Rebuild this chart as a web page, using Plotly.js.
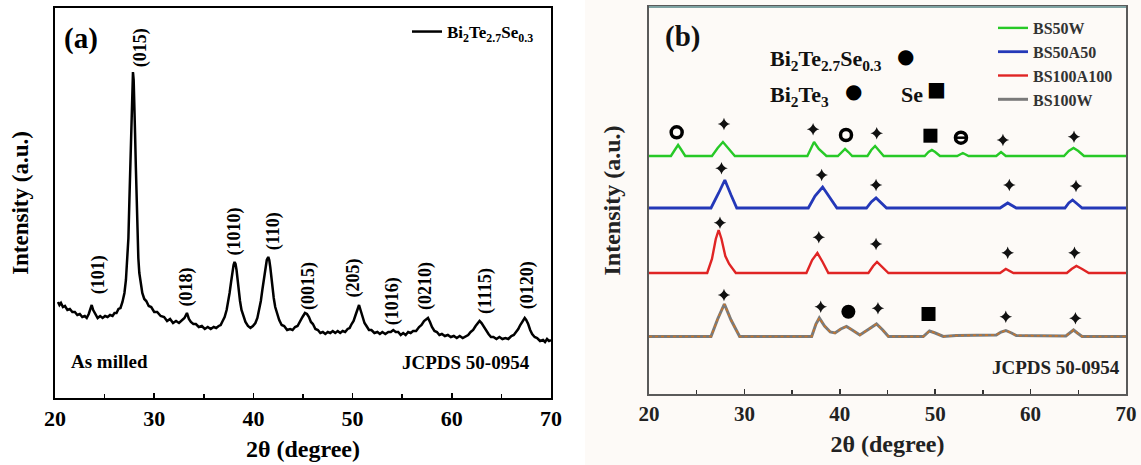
<!DOCTYPE html>
<html>
<head>
<meta charset="utf-8">
<script src="https://cdn.plot.ly/plotly-3.0.1.min.js"></script>
<style>html,body{margin:0;padding:0;background:#fff;}#chart{width:1141px;height:465px;}</style>
</head>
<body>
<div id="chart"></div>
<script>
// ---------- Panel (a): as-milled Bi2Te2.7Se0.3, [2θ, intensity] pairs ----------
const patternA = [
 [20.3,96],[20.45,93],[20.6,95],[20.8,91],[21.0,92],[21.25,88],[21.5,89],[21.75,86],[22.0,86],[22.25,83],[22.5,84],[22.75,81],[23.0,82],[23.2,80],[23.4,84],[23.55,88],[23.7,93],[23.85,88],[24.0,85],[24.15,82],[24.3,80],[24.55,82],[24.8,80],[25.05,82],[25.3,81],[25.55,83],[25.8,82],[26.0,85],[26.2,85],[26.4,89],[26.6,90],[26.8,96],
 [27.0,105],[27.15,118],[27.3,138],[27.4,160],[27.5,198],[27.6,235],[27.7,271],[27.78,305],[27.86,326],[27.93,318],[28.0,298],[28.07,265],[28.15,231],[28.22,195],[28.3,165],[28.4,140],[28.5,125],[28.65,112],[28.8,105],
 [29.0,99],[29.2,97],[29.45,92],[29.7,91],[30.0,86],[30.3,86],[30.65,82],[31.0,81],[31.3,77],[31.6,79],[31.9,75],[32.2,77],[32.5,75],[32.8,78],[33.05,80],[33.3,85],[33.5,79],[33.7,76],[33.95,74],[34.2,74],[34.5,71],[34.8,72],[35.1,69],[35.4,71],[35.7,69],[36.0,71],[36.25,70],[36.5,72],[36.7,73],[36.9,77],[37.1,81],
 [37.3,88],[37.45,95],[37.6,105],[37.75,116],[37.9,128],[38.0,133],[38.1,136],[38.2,134],[38.3,128],[38.4,118],[38.5,108],[38.65,97],[38.8,88],
 [39.0,81],[39.2,76],[39.45,72],[39.7,70],[39.95,72],[40.2,75],[40.4,80],
 [40.6,88],[40.75,97],[40.9,108],[41.05,120],[41.2,131],[41.35,138],[41.5,141],[41.6,138],[41.7,131],[41.8,121],[41.9,111],[42.05,100],[42.2,91],
 [42.4,84],[42.6,78],[42.85,73],[43.1,72],[43.4,68],[43.7,69],[43.95,68],[44.2,71],[44.45,72],[44.7,77],[44.95,81],[45.2,85],[45.4,84],[45.6,81],[45.8,76],[46.0,74],[46.25,69],[46.5,68],[46.75,65],[47.0,66],[47.25,64],[47.5,66],[47.75,65],[48.0,67],[48.25,65],[48.5,67],[48.75,65],[49.0,67],[49.25,66],[49.5,69],[49.7,70],[49.9,74],[50.1,77],[50.3,83],[50.5,89],[50.65,93],[50.8,88],[51.0,81],[51.2,75],[51.4,72],[51.65,68],[51.9,68],[52.2,65],[52.5,66],[52.75,64],[53.0,66],[53.3,64],[53.6,66],[53.85,66],[54.1,68],[54.35,66],[54.6,66],[54.85,63],[55.1,65],[55.35,63],[55.6,66],[55.85,65],[56.1,67],[56.4,67],[56.7,71],[56.95,73],[57.2,77],[57.4,79],[57.6,80],[57.8,76],[58.0,71],[58.25,67],[58.5,66],[58.75,63],[59.0,64],[59.3,62],[59.6,63],[59.9,61],[60.2,62],[60.5,60],[60.8,62],[61.1,60],[61.4,62],[61.65,63],[61.9,66],[62.15,68],[62.4,72],[62.6,75],[62.8,77],[63.0,75],[63.2,72],[63.45,67],[63.7,64],[63.95,61],[64.2,61],[64.5,59],[64.8,61],[65.1,59],[65.4,60],[65.7,59],[66.0,62],[66.25,63],[66.5,66],[66.7,69],[66.9,73],[67.15,77],[67.35,80],[67.5,78],[67.7,74],[67.9,68],[68.1,64],[68.35,61],[68.6,60],[68.9,57],[69.2,58],[69.4,56],[69.6,59],[69.8,57],[70.0,58]
];
const peakLabels = ["(101)","(015)","(018)","(1010)","(110)","(0015)","(205)","(1016)","(0210)","(1115)","(0120)"];
const peakLabelX = [24.35,28.6,33.25,38.0,42.0,45.5,50.0,54.0,57.3,63.35,67.6];
const peakLabelY = [123,350,111,166,167,112,120,97,112,107,113];

// ---------- Panel (b): four processed samples ----------
const seriesNames = ["BS50W","BS50A50","BS100A100","BS100W"];
const seriesColors = ["#27c927","#2438b8","#e02424","#7a7a7a"];
const bs50wX = [20,22.3,22.7,23.05,23.4,23.8,26.6,27.2,27.75,28.3,29.0,36.6,37.0,37.3,37.8,38.6,39.8,40.2,40.55,40.9,41.3,42.9,43.3,43.7,44.1,44.6,48.9,49.3,49.65,50.0,50.5,52.3,52.9,53.5,56.4,56.9,57.4,63.5,64.0,64.5,65.0,65.6,70];
const bs50wY = [238,238,244,249,244,238,238,246,252,246,238,238,246,252,245,238,238,242,245,242,238,238,244,248,244,238,238,242,244,242,238,238,241,238,238,242,238,238,243,246,243,238,238];
const bs50a50X = [20,26.5,27.3,27.95,28.6,29.2,36.7,37.4,38.2,39.0,39.7,42.8,43.3,43.8,44.3,44.9,56.8,57.6,58.5,63.6,64.0,64.4,64.9,65.4,70];
const bs50a50Y = [186,186,201,214,199,186,186,198,207,196,186,186,192,196,191,186,186,191,186,186,191,194,190,186,186];
const bs100a100X = [20,26.1,26.6,27.0,27.3,27.6,28.0,28.4,29.1,36.5,37.1,37.65,38.2,38.8,43.0,43.5,43.9,44.4,45.1,56.8,57.4,58.2,63.8,64.3,64.8,65.4,66.1,70];
const bs100a100Y = [121,121,135,155,164,155,138,130,121,121,134,141,132,121,121,128,132,127,121,121,125,121,121,125,128,125,121,121];
const bs100wX = [20,26.5,27.2,27.9,28.6,29.5,37.05,37.5,37.85,38.4,39.0,39.5,40.1,40.7,41.3,42.1,42.9,43.85,44.5,45.1,48.75,49.4,50.0,50.85,52.2,56.4,56.9,57.4,58.0,58.5,63.7,64.2,64.5,64.9,65.4,70];
const bs100wY = [57.5,57.5,75,90,74,57.5,57.5,70,76,68,62,61,65,67.5,64,59,64,70,64,57.5,57.5,63,61,57.5,58.5,59,62,63.5,61,58.5,58,62,64,61,57.5,57.5];

// phase markers (b)
const starX = [27.86,37.2,43.87,57.1,64.55, 27.6,38.1,43.8,57.77,64.76, 27.44,37.8,43.8,57.6,64.6, 27.86,38.0,44.0,57.4,64.7];
const starY = [270,264.7,260.7,254,257.3, 225.7,219,209,209,208, 171.3,156.7,150,141.3,141.3, 99,87.3,85.7,77.3,75.7];
const ringX = [22.9,40.65,52.7];
const ringY = [261.7,259,256.3];
const barX = [52.7];
const barY = [256.3];
const filledX = [40.9];
const filledY = [82.3];
const squareX = [49.5,49.3];
const squareY = [258.3,80];

const font = 'Liberation Serif';
const fa = (size, color) => ({family: font, size: size, color: color || '#000', weight: 'bold'});

const traces = [
  {x: patternA.map(p => p[0]), y: patternA.map(p => p[1]), type: 'scatter', mode: 'lines', xaxis: 'x', yaxis: 'y',
   name: 'Bi<sub>2</sub>Te<sub>2.7</sub>Se<sub>0.3</sub>', line: {color: '#000', width: 2.5}, legend: 'legend'},
  {x: bs50wX, y: bs50wY, type: 'scatter', mode: 'lines', xaxis: 'x2', yaxis: 'y2', name: seriesNames[0], line: {color: seriesColors[0], width: 2.4}, legend: 'legend2'},
  {x: bs50a50X, y: bs50a50Y, type: 'scatter', mode: 'lines', xaxis: 'x2', yaxis: 'y2', name: seriesNames[1], line: {color: seriesColors[1], width: 2.8}, legend: 'legend2'},
  {x: bs100a100X, y: bs100a100Y, type: 'scatter', mode: 'lines', xaxis: 'x2', yaxis: 'y2', name: seriesNames[2], line: {color: seriesColors[2], width: 2.4}, legend: 'legend2'},
  {x: bs100wX, y: bs100wY, type: 'scatter', mode: 'lines', xaxis: 'x2', yaxis: 'y2', name: seriesNames[3], line: {color: seriesColors[3], width: 3}, legend: 'legend2'},
  {x: bs100wX, y: bs100wY, type: 'scatter', mode: 'lines', xaxis: 'x2', yaxis: 'y2', showlegend: false, hoverinfo: 'skip', line: {color: '#c8752a', width: 1.6, dash: 'dot'}},
  {x: starX, y: starY, type: 'scatter', mode: 'markers', xaxis: 'x2', yaxis: 'y2', showlegend: false, marker: {symbol: 'star-diamond', size: 9, color: '#111'}},
  {x: ringX, y: ringY, type: 'scatter', mode: 'markers', xaxis: 'x2', yaxis: 'y2', showlegend: false, marker: {symbol: 'circle-open', size: 11, color: '#000', line: {width: 3.5, color: '#000'}}},
  {x: barX, y: barY, type: 'scatter', mode: 'markers', xaxis: 'x2', yaxis: 'y2', showlegend: false, marker: {symbol: 'line-ew-open', size: 9, color: '#000', line: {width: 2.5, color: '#000'}}},
  {x: filledX, y: filledY, type: 'scatter', mode: 'markers', xaxis: 'x2', yaxis: 'y2', showlegend: false, marker: {symbol: 'circle', size: 14, color: '#000'}},
  {x: squareX, y: squareY, type: 'scatter', mode: 'markers', xaxis: 'x2', yaxis: 'y2', showlegend: false, marker: {symbol: 'square', size: 14, color: '#000'}}
];

const annotations = [];
peakLabels.forEach((t, i) => annotations.push({xref: 'x', yref: 'y', x: peakLabelX[i], y: peakLabelY[i], text: t, textangle: -90, showarrow: false, xanchor: 'center', yanchor: 'middle', font: fa(18)}));
annotations.push(
  {xref: 'x', yref: 'y', x: 22.6, y: 360, text: '(a)', showarrow: false, font: fa(29)},
  {xref: 'x', yref: 'y', x: 25.5, y: 37, text: 'As milled', showarrow: false, font: fa(19)},
  {xref: 'x', yref: 'y', x: 61.4, y: 36, text: 'JCPDS 50-0954', showarrow: false, font: fa(19)},
  {xref: 'x2', yref: 'y2', x: 23.56, y: 357, text: '(b)', showarrow: false, font: fa(29, '#111')},
  {xref: 'x2', yref: 'y2', x: 62.66, y: 27, text: 'JCPDS 50-0954', showarrow: false, font: fa(19, '#222')},
  {xref: 'paper', yref: 'paper', x: 768/1141, y: 1 - 44/465, xanchor: 'left', text: 'Bi<sub>2</sub>Te<sub>2.7</sub>Se<sub>0.3</sub>', showarrow: false, font: fa(22, '#111')},
  {xref: 'paper', yref: 'paper', x: 916/1141, y: 1 - 42/465, text: '●', showarrow: false, font: {family: 'DejaVu Sans', size: 20, color: '#000'}},
  {xref: 'paper', yref: 'paper', x: 768/1141, y: 1 - 80/465, xanchor: 'left', text: 'Bi<sub>2</sub>Te<sub>3</sub>', showarrow: false, font: fa(22, '#111')},
  {xref: 'paper', yref: 'paper', x: 864/1141, y: 1 - 77/465, text: '●', showarrow: false, font: {family: 'DejaVu Sans', size: 20, color: '#000'}},
  {xref: 'paper', yref: 'paper', x: 899/1141, y: 1 - 80/465, xanchor: 'left', text: 'Se', showarrow: false, font: fa(22, '#111')},
  {xref: 'paper', yref: 'paper', x: 948/1141, y: 1 - 75/465, text: '■', showarrow: false, font: {family: 'DejaVu Sans', size: 20, color: '#000'}}
);

const layout = {
  width: 1141, height: 465,
  margin: {l: 0, r: 0, t: 0, b: 0},
  paper_bgcolor: '#ffffff', plot_bgcolor: 'rgba(0,0,0,0)',
  font: fa(16),
  showlegend: true,
  xaxis: {domain: [55/1141, 551/1141], range: [20, 70], anchor: 'y', showgrid: false, zeroline: false,
    showline: true, mirror: true, linecolor: '#000', linewidth: 2,
    ticks: 'inside', ticklen: 5, tickwidth: 1.5, tickcolor: '#000', dtick: 10, tick0: 20,
    minor: {dtick: 5, ticks: 'inside', ticklen: 4, tickwidth: 1.5, tickcolor: '#000', showgrid: false},
    tickfont: fa(22), title: {text: '2θ (degree)', font: fa(24), standoff: 10}},
  yaxis: {domain: [67/465, 457/465], range: [0, 390], anchor: 'x', showgrid: false, zeroline: false,
    showline: true, mirror: true, linecolor: '#000', linewidth: 2, showticklabels: false, ticks: '',
    title: {text: 'Intensity (a.u.)', font: fa(23), standoff: 18}},
  xaxis2: {domain: [649/1141, 1126/1141], range: [20, 70], anchor: 'y2', showgrid: false, zeroline: false,
    showline: true, mirror: true, linecolor: '#5a5a5a', linewidth: 2,
    ticks: 'inside', ticklen: 5, tickwidth: 1.5, tickcolor: '#333', dtick: 10, tick0: 20,
    minor: {dtick: 5, ticks: 'inside', ticklen: 4, tickwidth: 1.5, tickcolor: '#333', showgrid: false},
    tickfont: fa(21, '#222'), title: {text: '2θ (degree)', font: fa(24, '#222'), standoff: 10}},
  yaxis2: {domain: [71/465, 458/465], range: [0, 387], anchor: 'x2', showgrid: false, zeroline: false,
    showline: true, mirror: true, linecolor: '#5a5a5a', linewidth: 2, showticklabels: false, ticks: '',
    title: {text: 'Intensity (a.u.)', font: fa(24, '#222'), standoff: 20}},
  legend: {x: 539/1141, xanchor: 'right', y: 1 - 32/465, yanchor: 'middle', bgcolor: 'rgba(0,0,0,0)', font: fa(17), borderwidth: 0},
  legend2: {x: 993/1141, xanchor: 'left', y: 1 - 11/465, yanchor: 'top', bgcolor: 'rgba(0,0,0,0)', font: fa(16, '#333'), borderwidth: 0, tracegroupgap: 0},
  shapes: [
    {type: 'rect', xref: 'paper', yref: 'paper', x0: 585/1141, x1: 1, y0: 0, y1: 1, fillcolor: '#fdfaf7', line: {width: 0}, layer: 'below'},
    {type: 'line', xref: 'x2 domain', yref: 'y2 domain', x0: 0, x1: 1, y0: 1, y1: 1, line: {color: '#7fa3a3', width: 2}}
  ],
  annotations: annotations
};

Plotly.newPlot('chart', traces, layout, {staticPlot: true, displayModeBar: false});
</script>
</body>
</html>
